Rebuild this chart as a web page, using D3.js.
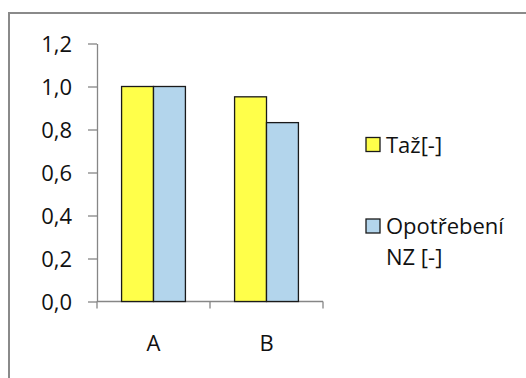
<!DOCTYPE html>
<html>
<head>
<meta charset="utf-8">
<script src="https://cdn.jsdelivr.net/npm/d3@7"></script>
<style>
  html, body { margin: 0; padding: 0; background: #fff; }
  svg { display: block; }
  text { font-family: "Open Sans", "Noto Sans", sans-serif; fill: #111; }
</style>
</head>
<body>
<svg id="chart" width="526" height="378"></svg>
<script>
const categories = ["A", "B"];
const seriesNames = ["Taž[-]", "Opotřebení NZ [-]"];
const tazValues = [1.0, 0.952];
const opotrebeniValues = [1.0, 0.832];
const yTicks = [0, 0.2, 0.4, 0.6, 0.8, 1.0, 1.2];
const seriesColors = ["#FFFF4A", "#B3D5EC"];

const series = [tazValues, opotrebeniValues];
const svg = d3.select("#chart");
const FS = 22;

// outer chart border
svg.append("rect")
  .attr("x", 9).attr("y", 13)
  .attr("width", 560).attr("height", 400)
  .attr("fill", "none").attr("stroke", "#8a8a8a").attr("stroke-width", 2);

const x0 = d3.scaleBand().domain(categories).range([97, 323]).padding(0);
const x1 = d3.scaleBand().domain(d3.range(series.length))
  .range([0, x0.bandwidth()]).paddingInner(0).paddingOuter(0.77);
const y = d3.scaleLinear().domain([0, 1.2]).range([301.5, 43.5]);

const fmt = v => d3.format(".1f")(v).replace(".", ",");

// y axis
const yAxis = svg.append("g").attr("transform", "translate(97,0)")
  .call(d3.axisLeft(y).tickValues(yTicks).tickFormat(fmt).tickSize(9).tickSizeOuter(0).tickPadding(16));
yAxis.select(".domain").attr("stroke", "#868686").attr("stroke-width", 1.3);
yAxis.selectAll(".tick line").attr("stroke", "#868686").attr("stroke-width", 1.3);
yAxis.selectAll(".tick text").attr("font-size", FS).attr("font-family", "'Open Sans', sans-serif").attr("fill", "#111").attr("dy", "0.36em");

// x axis
const xAxisG = svg.append("g");
xAxisG.append("line")
  .attr("x1", x0.range()[0]).attr("x2", x0.range()[1])
  .attr("y1", y(0)).attr("y2", y(0))
  .attr("stroke", "#868686").attr("stroke-width", 1.3);
const bounds = categories.map(c => x0(c)).concat([x0.range()[1]]);
xAxisG.selectAll("line.xt").data(bounds).enter().append("line")
  .attr("class", "xt")
  .attr("x1", d => d).attr("x2", d => d)
  .attr("y1", y(0)).attr("y2", y(0) + 7)
  .attr("stroke", "#868686").attr("stroke-width", 1.3);
xAxisG.selectAll("text").data(categories).enter().append("text")
  .attr("x", d => x0(d) + x0.bandwidth() / 2)
  .attr("y", 350.5)
  .attr("text-anchor", "middle")
  .attr("font-size", FS)
  .text(d => d);

// bars
categories.forEach((c, ci) => {
  series.forEach((vals, si) => {
    svg.append("rect")
      .attr("x", x0(c) + x1(si))
      .attr("y", y(vals[ci]))
      .attr("width", x1.bandwidth())
      .attr("height", y(0) - y(vals[ci]))
      .attr("fill", seriesColors[si])
      .attr("stroke", "#1a1a1a").attr("stroke-width", 1.3);
  });
});

// legend
const legendY = [137.5, 219];
seriesNames.forEach((name, i) => {
  svg.append("rect")
    .attr("x", 366).attr("y", legendY[i])
    .attr("width", 14).attr("height", 14)
    .attr("fill", seriesColors[i])
    .attr("stroke", "#1a1a1a").attr("stroke-width", 1.3);
});
svg.append("text").attr("x", 386).attr("y", 152.5).attr("font-size", FS).text(seriesNames[0]);
const t2 = svg.append("text").attr("x", 386).attr("y", 233.5).attr("font-size", FS);
t2.append("tspan").attr("x", 386).text("Opotřebení");
t2.append("tspan").attr("x", 386).attr("y", 265).text("NZ [-]");
</script>
</body>
</html>
